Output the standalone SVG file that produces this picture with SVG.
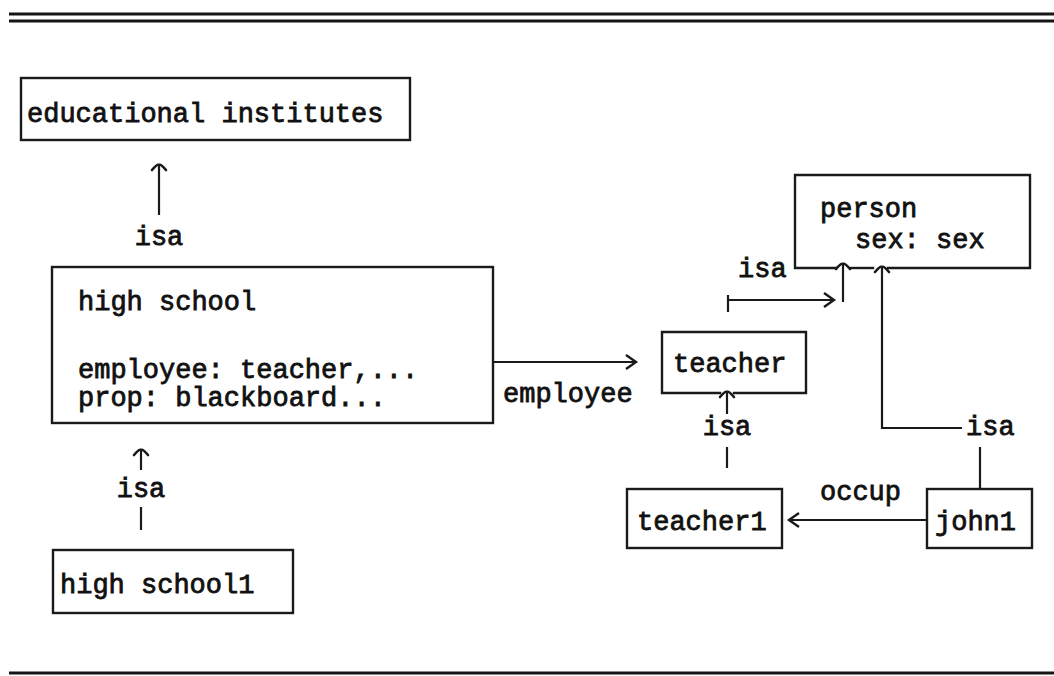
<svg xmlns="http://www.w3.org/2000/svg" width="1054" height="676" viewBox="0 0 1054 676">
  <style>
    .box { fill: none; stroke: #1a1a1a; stroke-width: 2.4; stroke-linecap: square; }
    .rule { stroke: #151515; stroke-width: 2.8; }
    .conn { fill: none; stroke: #1a1a1a; stroke-width: 2.2; }
    text { font-family: "Liberation Mono", "DejaVu Sans Mono", monospace; font-size: 27px; fill: #111; stroke: #111; stroke-width: 0.8; }
  </style>
  <defs>
    <!-- circumflex-style head used for "isa" links -->
    <marker id="hat" markerUnits="userSpaceOnUse" markerWidth="20" markerHeight="20" viewBox="-10 -10 20 20" refX="0" refY="0" orient="auto">
      <path d="M -5 -7 Q 1 -2 0 0 Q 1 2 -5 7" fill="none" stroke="#1a1a1a" stroke-width="2.6" stroke-linecap="round"/>
    </marker>
    <!-- typewriter ">" head used for attribute links -->
    <marker id="chev" markerUnits="userSpaceOnUse" markerWidth="24" markerHeight="24" viewBox="-12 -12 24 24" refX="0" refY="0" orient="auto">
      <path d="M -10 -7 L 0 0 L -10 7" fill="none" stroke="#1a1a1a" stroke-width="2.4" stroke-linejoin="miter"/>
    </marker>
  </defs>

  <!-- page rules -->
  <line class="rule" x1="9" y1="14" x2="1054" y2="14"/>
  <line class="rule" x1="9" y1="21" x2="1054" y2="21"/>
  <line class="rule" x1="9" y1="673" x2="1054" y2="673"/>

  <g id="connectors">
    <!-- high school isa educational institutes -->
    <line class="conn" x1="159" y1="215" x2="159" y2="165" marker-end="url(#hat)"/>
    <text x="159" y="245" text-anchor="middle">isa</text>

    <!-- high school1 isa high school -->
    <line class="conn" x1="141" y1="470" x2="141" y2="450" marker-end="url(#hat)"/>
    <line class="conn" x1="141" y1="507" x2="141" y2="530"/>
    <text x="141" y="497" text-anchor="middle">isa</text>

    <!-- employee: high school -> teacher -->
    <line class="conn" x1="493" y1="362" x2="636" y2="362" marker-end="url(#chev)"/>
    <text x="503" y="402">employee</text>

    <!-- teacher isa person -->
    <line class="conn" x1="728" y1="295" x2="728" y2="312"/>
    <line class="conn" x1="728" y1="300" x2="834" y2="300" marker-end="url(#chev)"/>
    <line class="conn" x1="843" y1="302" x2="843" y2="264" marker-end="url(#hat)"/>
    <text x="738" y="277">isa</text>

    <!-- teacher1 isa teacher -->
    <line class="conn" x1="727" y1="468" x2="727" y2="447"/>
    <line class="conn" x1="727" y1="414" x2="727" y2="392" marker-end="url(#hat)"/>
    <text x="727" y="435" text-anchor="middle">isa</text>

    <!-- john1 isa person -->
    <line class="conn" x1="980" y1="489" x2="980" y2="447"/>
    <path class="conn" d="M 962 428 L 882 428 L 882 267" marker-end="url(#hat)"/>
    <text x="966" y="435">isa</text>

    <!-- occup: john1 -> teacher1 -->
    <line class="conn" x1="927" y1="520" x2="789" y2="520" marker-end="url(#chev)"/>
    <text x="820" y="500">occup</text>
  </g>

  <g id="educational-institutes">
    <rect class="box" x="21" y="78" width="389" height="62"/>
    <text x="27" y="122">educational institutes</text>
  </g>

  <g id="high-school">
    <rect class="box" x="52" y="267" width="441" height="156"/>
    <text x="78" y="310">high school</text>
    <text x="78" y="378">employee: teacher,...</text>
    <text x="78" y="406">prop: blackboard...</text>
  </g>

  <g id="high-school1">
    <rect class="box" x="53" y="550" width="240" height="63"/>
    <text x="60" y="593">high school1</text>
  </g>

  <g id="teacher">
    <path class="box" d="M 720 393 L 662 393 L 662 332 L 806 332 L 806 393 L 734 393"/>
    <text x="673" y="372">teacher</text>
  </g>

  <g id="person">
    <path class="box" d="M 836 268 L 795 268 L 795 175 L 1030 175 L 1030 268 L 888 268"/>
    <line class="box" x1="851" y1="268" x2="873" y2="268"/>
    <text x="820" y="217">person</text>
    <text x="855" y="248">sex: sex</text>
  </g>

  <g id="teacher1">
    <rect class="box" x="627" y="489" width="155" height="59"/>
    <text x="637" y="530">teacher1</text>
  </g>

  <g id="john1">
    <rect class="box" x="927" y="489" width="105" height="59"/>
    <text x="935" y="530">john1</text>
  </g>
</svg>
